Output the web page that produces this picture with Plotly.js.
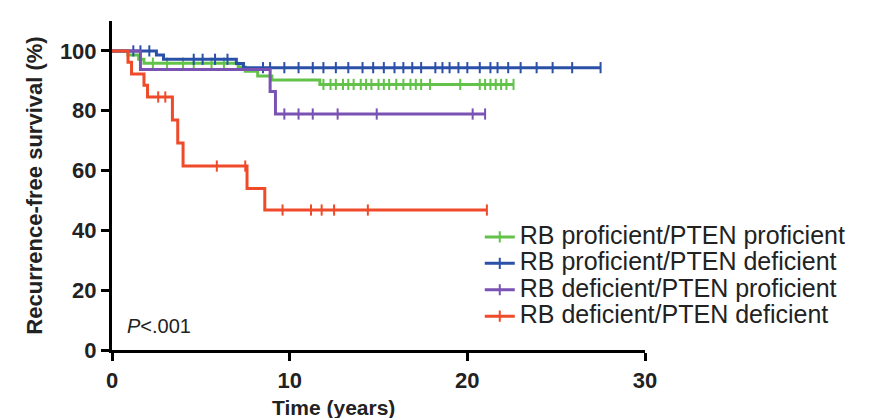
<!DOCTYPE html>
<html>
<head>
<meta charset="utf-8">
<script src="https://cdn.plot.ly/plotly-3.0.1.min.js"></script>
<style>html,body{margin:0;padding:0;background:#fff;}#chart{width:872px;height:418px;}</style>
</head>
<body>
<div id="chart"></div>
<script>
// ---- Data ----
const groupNames = [
  "RB proficient/PTEN proficient",
  "RB proficient/PTEN deficient",
  "RB deficient/PTEN proficient",
  "RB deficient/PTEN deficient"
];
// event times (years) and survival (%) after each event
const greenTimes = [0.9, 1.5, 1.8, 7.1, 7.5, 8.2, 9.0, 11.7];
const greenSurv  = [98.6, 97.2, 95.9, 94.6, 93.2, 91.6, 90.3, 88.8];
const greenCens  = [2.3, 3.1, 4.0, 4.6, 5.6, 6.3, 11.9, 12.3, 12.6, 13.0, 13.3, 13.6, 14.0, 14.3, 14.6, 15.0, 15.3, 15.6, 16.0, 16.4, 16.8, 17.1, 17.4, 17.9, 19.6, 20.7, 21.0, 21.3, 21.6, 21.9, 22.2, 22.6];

const blueTimes = [2.5, 2.9, 7.0, 7.4];
const blueSurv  = [98.6, 97.2, 95.8, 94.4];
const blueCens  = [1.2, 1.6, 2.1, 4.6, 5.1, 5.8, 6.5, 8.5, 8.9, 9.7, 10.5, 11.3, 11.9, 12.6, 13.3, 14.1, 14.7, 15.3, 15.9, 16.4, 16.9, 17.4, 18.2, 18.6, 19.0, 19.5, 20.0, 20.7, 21.3, 21.7, 22.3, 23.0, 23.9, 24.8, 25.9, 27.5];

const purpleTimes = [1.6, 8.9, 9.2];
const purpleSurv  = [93.8, 86.4, 78.9];
const purpleCens  = [9.7, 10.5, 11.3, 12.7, 14.9, 20.3, 21.0];

const redTimes = [0.9, 1.1, 1.8, 2.0, 3.4, 3.7, 4.0, 7.6, 8.6];
const redSurv  = [96.2, 92.3, 88.5, 84.6, 76.9, 69.2, 61.5, 54.0, 46.8];
const redCens  = [2.6, 3.0, 5.9, 7.5, 9.6, 11.2, 11.8, 12.5, 14.4, 21.1];

const xTicks = [0, 10, 20, 30];
const yTicks = [0, 20, 40, 60, 80, 100];
const pText = "<i>P</i>&lt;.001";

// ---- Styles ----
const colors = ["#62c24a", "#2b50a8", "#7a52b3", "#ef4a2a"];
const groups = [
  {t: greenTimes, s: greenSurv, c: greenCens},
  {t: blueTimes, s: blueSurv, c: blueCens},
  {t: purpleTimes, s: purpleSurv, c: purpleCens},
  {t: redTimes, s: redSurv, c: redCens}
];

function survAt(g, time) {
  let v = 100;
  for (let i = 0; i < g.t.length; i++) { if (g.t[i] <= time) v = g.s[i]; }
  return v;
}

const traces = [];
groups.forEach((g, i) => {
  const end = Math.max(g.c[g.c.length - 1], g.t[g.t.length - 1]);
  traces.push({
    x: [0].concat(g.t, [end]),
    y: [100].concat(g.s, [g.s[g.s.length - 1]]),
    mode: "lines", type: "scatter",
    line: {color: colors[i], width: 3, shape: "hv"},
    showlegend: false, hoverinfo: "skip"
  });
  traces.push({
    x: g.c, y: g.c.map(t => survAt(g, t)),
    mode: "markers", type: "scatter",
    marker: {symbol: "line-ns", size: 8, color: colors[i], line: {color: colors[i], width: 2}},
    showlegend: false, hoverinfo: "skip"
  });
});
groups.forEach((g, i) => {
  traces.push({
    x: [null], y: [null], type: "scatter", mode: "lines+markers",
    name: '<span style="font-size:25px">' + groupNames[i] + '</span>',
    line: {color: colors[i], width: 3},
    marker: {symbol: "line-ns", size: 8, color: colors[i], line: {color: colors[i], width: 2}}
  });
});

const fam = "Arial, 'Liberation Sans', sans-serif";
const axisFont = {family: fam, size: 22, color: "#222", weight: "bold"};

const layout = {
  width: 872, height: 418,
  margin: {l: 112, r: 227, t: 21, b: 68},
  paper_bgcolor: "#fff", plot_bgcolor: "#fff",
  showlegend: true,
  legend: {
    x: 0.69, y: 0.399, xanchor: "left", yanchor: "top",
    bgcolor: "rgba(0,0,0,0)", traceorder: "normal",
    font: {family: fam, size: 18, color: "#222"}
  },
  xaxis: {
    range: [0, 30], tickvals: xTicks, ticktext: xTicks.map(String),
    showline: true, linecolor: "#000", linewidth: 3, mirror: false,
    ticks: "outside", ticklen: 8, tickwidth: 3, tickcolor: "#000",
    ticklabelstandoff: 1,
    showgrid: false, zeroline: false, tickfont: axisFont
  },
  yaxis: {
    range: [0, 110], tickvals: yTicks, ticktext: yTicks.map(String),
    showline: true, linecolor: "#000", linewidth: 3,
    ticks: "outside", ticklen: 8, tickwidth: 3, tickcolor: "#000",
    showgrid: false, zeroline: false, tickfont: axisFont,
    title: {text: "Recurrence-free survival (%)", font: axisFont, standoff: 12}
  },
  annotations: [
    {text: "Time (years)", xref: "paper", yref: "paper", x: 0.415, y: -0.174,
     xanchor: "center", yanchor: "middle", showarrow: false, font: {family: fam, size: 21, color: "#222", weight: "bold"}},
    {text: pText, xref: "x", yref: "y", x: 0.75, y: 8, xanchor: "left", yanchor: "middle",
     showarrow: false, font: {family: fam, size: 20, color: "#222"}}
  ]
};

Plotly.newPlot("chart", traces, layout, {displayModeBar: false, staticPlot: true});
</script>
</body>
</html>
